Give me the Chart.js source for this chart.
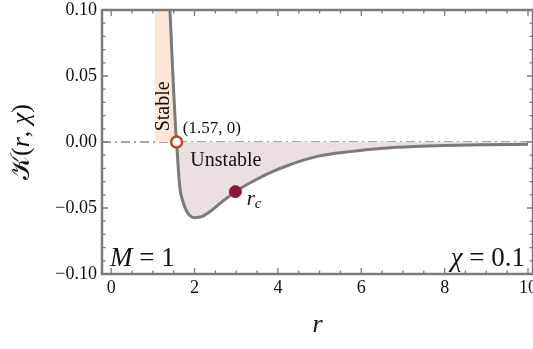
<!DOCTYPE html>
<html>
<head>
<meta charset="utf-8">
<script src="https://cdn.jsdelivr.net/npm/chart.js@4.4.0/dist/chart.umd.min.js"></script>
<style>
  html, body { margin: 0; padding: 0; background: #fff; }
  #wrap { width: 533px; height: 349px; }
</style>
</head>
<body>
<div id="wrap"><canvas id="kChart"></canvas></div>
<script>
// curve K(r, chi)
const rValues = [1.38, 1.41, 1.45, 1.50, 1.55, 1.57, 1.58, 1.61, 1.65, 1.72, 1.84, 2.00, 2.17, 2.37, 2.61, 2.98, 3.46, 3.87, 4.27, 4.92, 5.73, 6.55, 7.27, 8.00, 9.00, 10.0];
const kValues = [0.115, 0.100, 0.072, 0.038, 0.008, 0.000, -0.005, -0.020, -0.035, -0.045, -0.054, -0.0573, -0.0566, -0.0528, -0.0465, -0.0376, -0.0288, -0.0225, -0.0174, -0.0111, -0.0073, -0.0048, -0.0035, -0.0027, -0.0021, -0.0017];
const stableLeft = 1.05;
const rootPoint = { x: 1.57, y: 0 };
const rcPoint = { x: 2.98, y: -0.0376 };
const xTicks = [0, 2, 4, 6, 8, 10];
const yTicks = [-0.10, -0.05, 0.00, 0.05, 0.10];

const curve = rValues.map((r, i) => ({ x: r, y: kValues[i] }));
const iRoot = rValues.indexOf(rootPoint.x);
// stable band: from r = stableLeft up to the curve, above K = 0
const stableArea = [{ x: stableLeft, y: 0.1 }].concat(curve.slice(1, iRoot + 1));
const unstableArea = curve.slice(iRoot);

const serif = "'Liberation Serif', 'DejaVu Serif', serif";
const frameColor = '#7b7b7b';

// draw a run of [text, italic?] pieces starting at x
function drawPieces(ctx, pieces, x0, y0, size) {
    let px = x0;
    pieces.forEach(([t, it]) => {
        ctx.font = (it ? 'italic ' : '') + size + 'px ' + serif;
        ctx.fillText(t, px, y0);
        px += ctx.measureText(t).width;
    });
    return px - x0;
}
function piecesWidth(ctx, pieces, size) {
    let w = 0;
    pieces.forEach(([t, it]) => {
        ctx.font = (it ? 'italic ' : '') + size + 'px ' + serif;
        w += ctx.measureText(t).width;
    });
    return w;
}

// frame, inside ticks, tick labels, dash-dot zero line and labels
const decor = {
    id: 'decor',
    beforeDatasetsDraw(chart) {
        const { ctx, chartArea: a, scales: { y } } = chart;
        ctx.save();
        ctx.strokeStyle = '#8a8a8a';
        ctx.lineWidth = 1.3;
        ctx.setLineDash([9, 4, 2, 4]);
        ctx.beginPath();
        ctx.moveTo(a.left, y.getPixelForValue(0));
        ctx.lineTo(a.right, y.getPixelForValue(0));
        ctx.stroke();
        ctx.restore();
    },
    afterDraw(chart) {
        const { ctx, chartArea: a, scales: { x, y } } = chart;
        ctx.save();
        ctx.strokeStyle = frameColor;
        ctx.lineWidth = 1.3;
        // x ticks every 0.5, major every 2
        for (let v = 0; v <= 10.001; v += 0.5) {
            const px = x.getPixelForValue(v);
            const len = (Math.abs(v % 2) < 1e-6) ? 6 : 3.5;
            ctx.beginPath();
            ctx.moveTo(px, a.bottom); ctx.lineTo(px, a.bottom - len);
            ctx.moveTo(px, a.top); ctx.lineTo(px, a.top + len);
            ctx.stroke();
        }
        // y ticks every 0.01, major every 0.05
        for (let k = -10; k <= 10; k++) {
            const py = y.getPixelForValue(k / 100);
            const len = (k % 5 === 0) ? 6 : 3.5;
            ctx.beginPath();
            ctx.moveTo(a.left, py); ctx.lineTo(a.left + len, py);
            ctx.moveTo(a.right, py); ctx.lineTo(a.right - len, py);
            ctx.stroke();
        }
        ctx.lineWidth = 2.5;
        ctx.strokeRect(a.left, a.top, a.right - a.left, a.bottom - a.top);

        ctx.fillStyle = '#111';
        ctx.textBaseline = 'middle';
        // tick labels
        ctx.font = '18px ' + serif;
        ctx.textAlign = 'center';
        xTicks.forEach(v => ctx.fillText(String(v), x.getPixelForValue(v), a.bottom + 14));
        ctx.textAlign = 'right';
        yTicks.forEach(v => {
            const s = (v < 0 ? '\u2212' : '') + Math.abs(v).toFixed(2);
            ctx.fillText(s, a.left - 5, y.getPixelForValue(v));
        });

        // axis titles
        ctx.textAlign = 'center';
        ctx.font = 'italic 26px ' + serif;
        ctx.fillText('r', (a.left + a.right) / 2, 325);
        ctx.save();
        ctx.translate(22, (a.top + a.bottom) / 2);
        ctx.rotate(-Math.PI / 2);
        ctx.textAlign = 'left';
        const yTitle = [['\u{1D4A6}', false], ['(', false], ['r', true], [', ', false], ['\u03C7', true], [')', false]];
        drawPieces(ctx, yTitle, -piecesWidth(ctx, yTitle, 26) / 2, 0, 26);
        ctx.restore();

        // panel labels
        ctx.textAlign = 'left';
        drawPieces(ctx, [['M', true], [' = 1', false]], a.left + 8, a.bottom - 15, 27);
        const chiLabel = [['\u03C7', true], [' = 0.1', false]];
        drawPieces(ctx, chiLabel, a.right - 8 - piecesWidth(ctx, chiLabel, 27), a.bottom - 15, 27);

        // annotations
        ctx.font = '17px ' + serif;
        ctx.fillText('(1.57, 0)', x.getPixelForValue(1.72), y.getPixelForValue(0.010));
        ctx.font = '20px ' + serif;
        ctx.fillText('Unstable', x.getPixelForValue(1.9), y.getPixelForValue(-0.0145));
        ctx.font = 'italic 21px ' + serif;
        ctx.fillText('r', x.getPixelForValue(3.25), y.getPixelForValue(-0.0438));
        const rW = ctx.measureText('r').width;
        ctx.font = 'italic 15px ' + serif;
        ctx.fillText('c', x.getPixelForValue(3.25) + rW, y.getPixelForValue(-0.0468));
        ctx.save();
        ctx.translate(x.getPixelForValue(1.25), y.getPixelForValue(0.027));
        ctx.rotate(-Math.PI / 2);
        ctx.font = '20px ' + serif;
        ctx.textAlign = 'center';
        ctx.fillText('Stable', 0, 0);
        ctx.restore();
        ctx.restore();
    }
};

let kCtx = document.getElementById('kChart');
let kConfig = {
    type: 'scatter',
    data: {
        datasets: [{
            data: stableArea,
            showLine: true,
            borderWidth: 0,
            pointRadius: 0,
            tension: 0.3,
            fill: 'origin',
            backgroundColor: '#fbe6da',
            order: 5
        }, {
            data: unstableArea,
            showLine: true,
            borderWidth: 0,
            pointRadius: 0,
            cubicInterpolationMode: 'monotone',
            fill: 'origin',
            backgroundColor: '#ecdfe2',
            order: 4
        }, {
            data: curve,
            showLine: true,
            borderColor: '#7a7a7a',
            borderWidth: 3,
            pointRadius: 0,
            cubicInterpolationMode: 'monotone',
            fill: false,
            order: 3
        }, {
            data: [rcPoint],
            pointRadius: 6,
            pointBackgroundColor: '#8a1838',
            pointBorderColor: '#8a1838',
            order: 1
        }, {
            data: [rootPoint],
            pointRadius: 5.5,
            pointBorderWidth: 2.5,
            pointBackgroundColor: '#ffffff',
            pointBorderColor: '#c0442a',
            order: 0
        }]
    },
    options: {
        responsive: true,
        maintainAspectRatio: false,
        animation: false,
        layout: { autoPadding: false, padding: { left: 0, right: 0, top: 10, bottom: 0 } },
        plugins: { legend: { display: false }, tooltip: { enabled: false } },
        scales: {
            x: {
                type: 'linear',
                min: -0.22,
                max: 10.12,
                afterBuildTicks: (s) => { s.ticks = xTicks.map(v => ({ value: v })); },
                afterFit: (s) => { s.height = 75; },
                grid: { display: false, drawTicks: false },
                border: { display: false },
                ticks: { display: false }
            },
            y: {
                type: 'linear',
                min: -0.10,
                max: 0.10,
                afterBuildTicks: (s) => { s.ticks = yTicks.map(v => ({ value: v })); },
                afterFit: (s) => { s.width = 102; },
                grid: { display: false, drawTicks: false },
                border: { display: false },
                ticks: { display: false }
            }
        }
    },
    plugins: [decor]
};
let kChart = new Chart(kCtx, kConfig);
</script>
</body>
</html>
